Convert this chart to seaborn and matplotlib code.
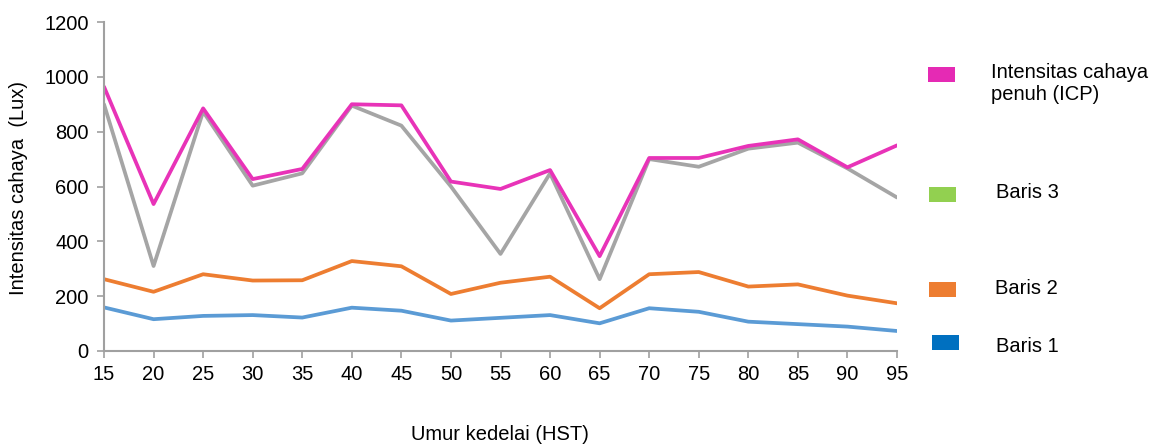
import matplotlib
matplotlib.use("Agg")
import matplotlib.pyplot as plt
import seaborn as sns
import pandas as pd
from matplotlib.patches import Rectangle

umur = [15, 20, 25, 30, 35, 40, 45, 50, 55, 60, 65, 70, 75, 80, 85, 90, 95]
icp = [964, 536, 885, 627, 664, 900, 896, 618, 591, 660, 346, 704, 704, 748, 772, 670, 750]
baris3 = [900, 310, 873, 603, 648, 895, 822, 600, 354, 648, 262, 700, 672, 738, 760, 666, 560]
baris2 = [262, 216, 280, 257, 258, 328, 309, 208, 249, 271, 156, 280, 288, 235, 243, 202, 174]
baris1 = [159, 116, 128, 131, 122, 158, 147, 111, 121, 131, 101, 156, 143, 107, 98, 89, 73]

series_names = ["Baris 1", "Baris 2", "Baris 3", "Intensitas cahaya\npenuh (ICP)"]
line_colors = ["#5B9BD5", "#ED7D31", "#A5A5A5", "#E833B8"]
legend_colors = ["#0070C0", "#ED7D31", "#92D050", "#E52AB4"]

rows = []
for name, vals in zip(series_names, [baris1, baris2, baris3, icp]):
    for x, v in zip(umur, vals):
        rows.append({"umur": x, "lux": v, "seri": name})
df = pd.DataFrame(rows)

sns.set_theme(style="white")
plt.rcParams["font.family"] = ["Liberation Sans", "DejaVu Sans"]
plt.rcParams["text.color"] = "black"

FS = 14.5
fig = plt.figure(figsize=(11.65, 4.45), dpi=100)
ax = fig.add_axes([104 / 1165, 1 - 351 / 445, (897 - 104) / 1165, (351 - 22) / 445])

sns.lineplot(data=df, x="umur", y="lux", hue="seri", hue_order=series_names,
             palette=dict(zip(series_names, line_colors)), linewidth=2.7,
             legend=False, ax=ax)

ax.set_xlim(15, 95)
ax.set_ylim(0, 1200)
ax.set_xticks(umur)
ax.set_yticks(range(0, 1201, 200))
ax.tick_params(axis="both", labelsize=FS, colors="#A0A0A0", labelcolor="black",
               length=5, width=1.2, direction="out", bottom=True, left=True)
ax.tick_params(axis="x", pad=5)
ax.tick_params(axis="y", pad=6)
for s in ["top", "right"]:
    ax.spines[s].set_visible(False)
for s in ["left", "bottom"]:
    ax.spines[s].set_color("#A0A0A0")
    ax.spines[s].set_linewidth(1.5)
ax.set_xlabel("")
ax.set_ylabel("")

fig.text(500 / 1165, 1 - 435 / 445, "Umur kedelai (HST)", ha="center", va="center",
         fontsize=FS, color="black")
fig.text(19 / 1165, 1 - 188 / 445, "Intensitas cahaya  (Lux)", ha="center", va="center",
         rotation=90, fontsize=FS, color="black")

# custom legend
leg_items = [
    ("Intensitas cahaya\npenuh (ICP)", legend_colors[3], 928, 67, 991, 84),
    ("Baris 3", legend_colors[2], 929, 187, 996, 193),
    ("Baris 2", legend_colors[1], 929, 282, 995, 288),
    ("Baris 1", legend_colors[0], 932, 335, 996, 346),
]
for label, col, sx, sy, tx, ty in leg_items:
    fig.add_artist(Rectangle((sx / 1165, 1 - (sy + 15) / 445), 27 / 1165, 15 / 445,
                             transform=fig.transFigure, color=col, lw=0))
    fig.text(tx / 1165, 1 - ty / 445, label, ha="left", va="center", fontsize=FS,
             linespacing=1.2, color="black")

fig.savefig("out.png", dpi=100)
